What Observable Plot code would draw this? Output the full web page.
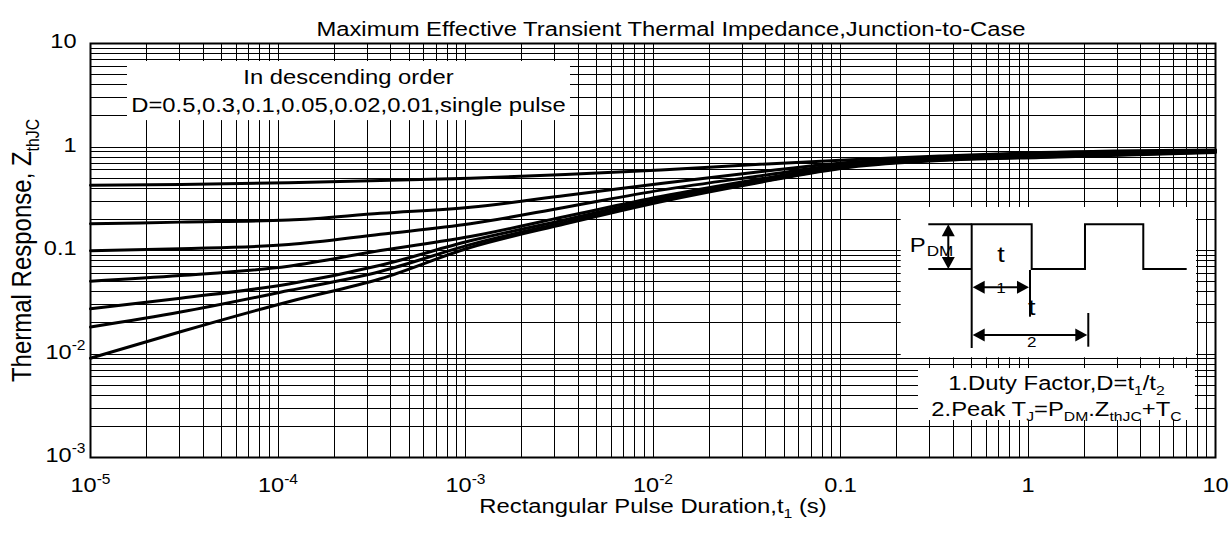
<!DOCTYPE html>
<html><head><meta charset="utf-8">
<script src="https://cdn.jsdelivr.net/npm/d3@7"></script>
<script src="https://cdn.jsdelivr.net/npm/@observablehq/plot@0.6"></script>
<style>
html,body{margin:0;padding:0;background:#fff;}
#chart svg{display:block;}
</style>
</head><body><div id="chart"></div>
<script>
// ---------------- data ----------------
const tValues = [1e-5, 3.02e-5, 1.14e-4, 3.52e-4, 1.06e-3, 3.41e-3, 1.1e-2, 3.52e-2, 0.113, 0.34, 1.17, 10];
const zD0_5  = [0.428, 0.434, 0.452, 0.475, 0.500, 0.542, 0.600, 0.678, 0.752, 0.818, 0.884, 0.935];
const zD0_3  = [0.181, 0.188, 0.197, 0.229, 0.262, 0.340, 0.445, 0.571, 0.713, 0.792, 0.865, 0.925];
const zD0_1  = [0.0993, 0.104, 0.114, 0.1436, 0.181, 0.262, 0.383, 0.519, 0.688, 0.774, 0.837, 0.915];
const zD0_05 = [0.0505, 0.0573, 0.0705, 0.100, 0.1365, 0.213, 0.332, 0.482, 0.673, 0.766, 0.828, 0.905];
const zD0_02 = [0.0273, 0.0346, 0.0475, 0.0721, 0.124, 0.198, 0.320, 0.464, 0.658, 0.757, 0.810, 0.905];
const zD0_01 = [0.0182, 0.0254, 0.041, 0.0627, 0.114, 0.188, 0.305, 0.454, 0.648, 0.749, 0.801, 0.895];
const zSingle = [0.0091, 0.0164, 0.032, 0.0533, 0.107, 0.181, 0.296, 0.447, 0.638, 0.740, 0.792, 0.885];
const seriesNames = ["0.5", "0.3", "0.1", "0.05", "0.02", "0.01", "single pulse"];
const seriesValues = [zD0_5, zD0_3, zD0_1, zD0_05, zD0_02, zD0_01, zSingle];

const xTickValues = [1e-5, 1e-4, 1e-3, 1e-2, 0.1, 1, 10];
const xTickLabels = ["10^{-5}", "10^{-4}", "10^{-3}", "10^{-2}", "0.1", "1", "10"];
const yTickValues = [1e-3, 1e-2, 0.1, 1, 10];
const yTickLabels = ["10^{-3}", "10^{-2}", "0.1", "1", "10"];
const minorMultipliers = [1, 2, 3, 4, 5, 6, 7, 8, 9];

const titleText = "Maximum Effective Transient Thermal Impedance,Junction-to-Case";
const xLabelText = "Rectangular Pulse Duration,t_{1} (s)";
const yLabelText = "Thermal Response, Z_{thJC}";
const legendLines = ["In descending order", "D=0.5,0.3,0.1,0.05,0.02,0.01,single pulse"];
const noteLines = ["1.Duty Factor,D=t_{1}/t_{2}", "2.Peak T_{J}=P_{DM}.Z_{thJC}+T_{C}"];

// ---------------- build ----------------
const FONT = "'Liberation Sans', Arial, Helvetica, sans-serif";
const FS = 19.5;     // lettering size
const FT = 21;       // tick label size
const rows = [];
seriesNames.forEach((name, i) => tValues.forEach((t, j) => rows.push({D: name, t, z: seriesValues[i][j]})));
const xGrid = [];
for (let e = -5; e < 1; e++) for (const m of minorMultipliers) xGrid.push(m * Math.pow(10, e));
xGrid.push(10);
const yGrid = [];
for (let e = -3; e < 1; e++) for (const m of minorMultipliers) yGrid.push(m * Math.pow(10, e));
yGrid.push(10);
const xLab = new Map(xTickValues.map((v, i) => [v, xTickLabels[i]]));
const yLab = new Map(yTickValues.map((v, i) => [v, yTickLabels[i]]));

const plot = Plot.plot({
  width: 1232, height: 534,
  marginLeft: 90, marginRight: 17, marginTop: 43, marginBottom: 77,
  style: {fontFamily: FONT, fontSize: FS + "px", color: "#000", background: "#fff", overflow: "visible"},
  x: {type: "log", domain: [1e-5, 10]},
  y: {type: "log", domain: [1e-3, 10]},
  marks: [
    Plot.ruleX(xGrid, {stroke: "#000", strokeWidth: 1, shapeRendering: "crispEdges"}),
    Plot.ruleY(yGrid, {stroke: "#000", strokeWidth: 1, shapeRendering: "crispEdges"}),
    Plot.line(rows, {x: "t", y: "z", z: "D", stroke: "#000", strokeWidth: 3, curve: "monotone-x"}),
    Plot.frame({stroke: "#000", strokeWidth: 2}),
    Plot.axisX(xTickValues, {tickSize: 0, tickPadding: 20, fontSize: FT, tickFormat: d => xLab.get(d), label: null}),
    Plot.axisY(yTickValues, {tickSize: 0, tickPadding: 14, fontSize: FT, dy: -2, tickFormat: d => yLab.get(d), label: null}),
    Plot.text([titleText], {text: d => d, frameAnchor: "top", dy: -21, dx: 18, fontSize: FS}),
    Plot.text([xLabelText], {text: d => d, frameAnchor: "bottom", dy: 55, fontSize: FS}),
    Plot.text([yLabelText], {text: d => d, frameAnchor: "left", textAnchor: "middle", dx: -68, rotate: -90, fontSize: 24})
  ]
});
document.getElementById("chart").append(plot);

const X = plot.scale("x"), Y = plot.scale("y");
const svg = d3.select(plot);
const ann = svg.append("g").attr("font-family", FONT).attr("fill", "#000");

function whiteBox(x1, x2, y1, y2) {
  const a = X.apply(x1), b = X.apply(x2), c = Y.apply(y1), d = Y.apply(y2);
  ann.append("rect").attr("x", Math.min(a, b)).attr("y", Math.min(c, d))
    .attr("width", Math.abs(b - a)).attr("height", Math.abs(d - c)).attr("fill", "#fff");
  return {L: Math.min(a, b), R: Math.max(a, b), T: Math.min(c, d), B: Math.max(c, d)};
}
function label(x, y, s, size, anchor) {
  ann.append("text").attr("x", x).attr("y", y).attr("font-size", size)
    .attr("text-anchor", anchor || "middle").text(s);
}
function seg(x1, y1, x2, y2, w) {
  ann.append("line").attr("x1", x1).attr("y1", y1).attr("x2", x2).attr("y2", y2)
    .attr("stroke", "#000").attr("stroke-width", w || 2);
}
function head(x, y, dir) { // tip at (x,y)
  const L = 12, H = 6.5;
  let p;
  if (dir === "l") p = [[x, y], [x + L, y - H], [x + L, y + H]];
  if (dir === "r") p = [[x, y], [x - L, y - H], [x - L, y + H]];
  if (dir === "u") p = [[x, y], [x - H, y + L], [x + H, y + L]];
  if (dir === "d") p = [[x, y], [x - H, y - L], [x + H, y - L]];
  ann.append("path").attr("d", "M" + p.map(q => q.join(",")).join("L") + "Z").attr("fill", "#000");
}

// legend box (top-left)
const lg = whiteBox(1.575e-5, 3.63e-3, 6.70, 1.80);
const lgc = (lg.L + lg.R) / 2;
label(lgc, lg.T + 23, legendLines[0], FS);
label(lgc, lg.T + 50.5, legendLines[1], FS);

// inset pulse diagram
const ib = whiteBox(0.2107, 7.92, 0.2603, 0.00919);
const L = ib.L, T = ib.T;
const hi = T + 17.3, lo = T + 62;
seg(L + 27.6, hi, L + 71, hi); seg(L + 27.6, lo, L + 71, lo);
ann.append("path").attr("fill", "none").attr("stroke", "#000").attr("stroke-width", 2)
  .attr("d", `M${L + 71},${T + 141}V${hi}H${L + 131}V${lo}H${L + 184.3}V${hi}H${L + 242.6}V${lo}H${L + 286}`);
// P_DM arrow
seg(L + 47.6, hi + 4, L + 47.6, lo - 4); head(L + 47.6, hi, "u"); head(L + 47.6, lo, "d");
// t1 arrow
seg(L + 129.3, T + 63, L + 129.3, T + 109.7);
seg(L + 75, T + 80.3, L + 125, T + 80.3); head(L + 72, T + 80.3, "l"); head(L + 128.3, T + 80.3, "r");
// t2 arrow
seg(L + 187.6, T + 106, L + 187.6, T + 139.7);
seg(L + 75, T + 128, L + 183, T + 128); head(L + 72, T + 128, "l"); head(L + 186.6, T + 128, "r");
label(L + 9, T + 45.5, "P", FS, "start");
label(L + 26, T + 49, "DM", 14, "start");
label(L + 100.3, T + 55, "t", 22);
label(L + 100.3, T + 86.5, "1", 14);
label(L + 131, T + 108.5, "t", 22);
label(L + 131, T + 140, "2", 14);

// notes box
const nb = whiteBox(0.2606, 7.82, 0.00724, 0.002278);
const nbc = (nb.L + nb.R) / 2;
label(nbc, nb.T + 22, noteLines[0], FS);
label(nbc, nb.T + 48, noteLines[1], FS);

// ---------------- rich text (sub/superscripts) ----------------
const NS = "http://www.w3.org/2000/svg";
function richify(el) {
  const s = el.textContent;
  if (!/[_^]\{/.test(s)) return false;
  const F = parseFloat(getComputedStyle(el).fontSize) || FS;
  const re = /([_^])\{([^}]*)\}/g;
  const parts = []; let last = 0, m;
  while ((m = re.exec(s))) { parts.push({t: s.slice(last, m.index), k: ""}); parts.push({t: m[2], k: m[1]}); last = re.lastIndex; }
  parts.push({t: s.slice(last), k: ""});
  while (el.firstChild) el.removeChild(el.firstChild);
  let cur = 0;
  for (const p of parts) {
    if (!p.t) continue;
    const ts = document.createElementNS(NS, "tspan");
    ts.textContent = p.t;
    const target = p.k === "^" ? -0.42 * F : p.k === "_" ? 0.26 * F : 0;
    if (target - cur !== 0) ts.setAttribute("dy", (target - cur).toFixed(2));
    cur = target;
    if (p.k) ts.setAttribute("font-size", (0.66 * F).toFixed(1));
    el.appendChild(ts);
  }
  return true;
}
plot.querySelectorAll("text").forEach(el => {
  const had = richify(el);
  if (had && el.closest('[aria-label="y-axis tick label"]')) el.setAttribute("dx", "9");
});
// the reference lettering is wide: stretch it horizontally
plot.querySelectorAll("text").forEach(el => {
  const tr = el.getAttribute("transform") || "";
  if (/rotate/.test(tr)) { // vertical axis title: widen glyphs across the page
    el.setAttribute("transform", tr.replace("rotate", "scale(1.15,1) rotate"));
    return;
  }
  const isTick = !!el.closest('[aria-label$="tick label"]');
  const S = isTick ? 1.12 : 1.22;
  const w = el.getComputedTextLength();
  if (w > 0) { el.setAttribute("textLength", (w * S).toFixed(1)); el.setAttribute("lengthAdjust", "spacingAndGlyphs"); }
});
</script>
</body></html>
